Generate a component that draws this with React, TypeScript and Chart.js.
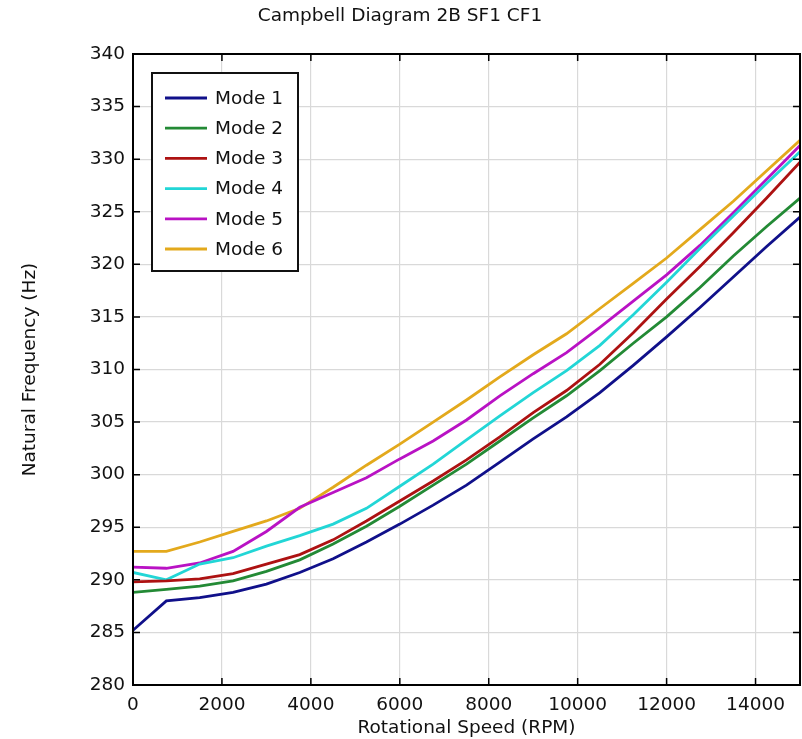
import React, { useEffect, useRef } from "react";
import { Chart, registerables } from "chart.js";

Chart.register(...registerables);

const rpm = [0, 750, 1500, 2250, 3000, 3750, 4500, 5250, 6000, 6750, 7500, 8250, 9000, 9750, 10500, 11250, 12000, 12750, 13500, 14250, 15000];

const mode1 = [285.2, 288.0, 288.3, 288.8, 289.6, 290.7, 292.0, 293.6, 295.3, 297.1, 299.0, 301.2, 303.4, 305.5, 307.8, 310.4, 313.1, 315.9, 318.8, 321.7, 324.5];
const mode2 = [288.8, 289.1, 289.4, 289.9, 290.8, 291.9, 293.4, 295.1, 297.0, 299.0, 301.0, 303.2, 305.4, 307.5, 309.9, 312.5, 315.0, 317.8, 320.8, 323.6, 326.3];
const mode3 = [289.8, 289.9, 290.1, 290.6, 291.5, 292.4, 293.8, 295.6, 297.5, 299.4, 301.4, 303.6, 305.9, 308.0, 310.5, 313.5, 316.7, 319.8, 323.0, 326.3, 329.7];
const mode4 = [290.7, 290.0, 291.5, 292.1, 293.2, 294.2, 295.3, 296.8, 298.9, 301.0, 303.3, 305.6, 307.8, 309.9, 312.3, 315.2, 318.3, 321.5, 324.6, 327.7, 330.7];
const mode5 = [291.2, 291.1, 291.6, 292.7, 294.6, 296.9, 298.3, 299.7, 301.5, 303.2, 305.2, 307.5, 309.6, 311.6, 314.0, 316.5, 319.0, 321.8, 324.9, 328.1, 331.3];
const mode6 = [292.7, 292.7, 293.6, 294.6, 295.6, 296.8, 298.8, 300.9, 302.9, 305.0, 307.1, 309.3, 311.4, 313.4, 315.8, 318.2, 320.6, 323.3, 326.0, 328.9, 331.8];

const seriesLabels = ["Mode 1", "Mode 2", "Mode 3", "Mode 4", "Mode 5", "Mode 6"];
const seriesColors = ["#10108a", "#238a35", "#ad1212", "#22d6d6", "#b912c4", "#e3a91c"];
const seriesValues = [mode1, mode2, mode3, mode4, mode5, mode6];

const xTicks = [0, 2000, 4000, 6000, 8000, 10000, 12000, 14000];
const yTicks = [280, 285, 290, 295, 300, 305, 310, 315, 320, 325, 330, 335, 340];

const FONT = "'DejaVu Sans', sans-serif";

const framePlugin = {
  id: "frameLegend",
  afterDatasetsDraw(chart: any) {
    const { ctx, chartArea, scales } = chart;
    const { left, right, top, bottom } = chartArea;
    const x = scales.x;
    const y = scales.y;
    ctx.save();
    ctx.strokeStyle = "#000";
    ctx.lineWidth = 2;
    ctx.strokeRect(left, top, right - left, bottom - top);
    ctx.lineWidth = 1.5;
    const L = 7;
    ctx.beginPath();
    xTicks.forEach((v) => {
      const px = x.getPixelForValue(v);
      ctx.moveTo(px, bottom);
      ctx.lineTo(px, bottom - L);
      ctx.moveTo(px, top);
      ctx.lineTo(px, top + L);
    });
    yTicks.forEach((v) => {
      const py = y.getPixelForValue(v);
      ctx.moveTo(left, py);
      ctx.lineTo(left + L, py);
      ctx.moveTo(right, py);
      ctx.lineTo(right - L, py);
    });
    ctx.stroke();

    // legend box inside plot
    const bx = left + 19;
    const by = top + 19;
    const bw = 146;
    const bh = 198;
    ctx.fillStyle = "#fff";
    ctx.fillRect(bx, by, bw, bh);
    ctx.lineWidth = 2;
    ctx.strokeStyle = "#111";
    ctx.strokeRect(bx, by, bw, bh);
    ctx.font = "18.5px " + FONT;
    ctx.textBaseline = "middle";
    ctx.textAlign = "left";
    chart.data.datasets.forEach((ds: any, i: number) => {
      const ry = by + 25 + i * 30.2;
      ctx.strokeStyle = ds.borderColor;
      ctx.lineWidth = 2.8;
      ctx.beginPath();
      ctx.moveTo(bx + 13, ry);
      ctx.lineTo(bx + 55, ry);
      ctx.stroke();
      ctx.fillStyle = "#111";
      ctx.fillText(ds.label, bx + 63, ry + 1);
    });
    ctx.restore();
  },
};

export default function App() {
  const ref = useRef<HTMLCanvasElement | null>(null);
  useEffect(() => {
    if (!ref.current) return;
    const chart = new Chart(ref.current, {
      type: "line",
      data: {
        datasets: seriesValues.map((vals, i) => ({
          label: seriesLabels[i],
          data: rpm.map((r, j) => ({ x: r, y: vals[j] })),
          borderColor: seriesColors[i],
          backgroundColor: seriesColors[i],
          borderWidth: 2.8,
          pointRadius: 0,
          tension: 0,
          fill: false,
        })),
      },
      options: {
        animation: false,
        responsive: false,
        maintainAspectRatio: false,
        layout: { padding: { left: 0, right: 2, top: 0, bottom: 0 } },
        plugins: {
          legend: { display: false },
          tooltip: { enabled: false },
          title: {
            display: true,
            text: "Campbell Diagram 2B SF1 CF1",
            color: "#111",
            font: { family: FONT, size: 18.5, weight: "normal" },
            padding: { top: 5, bottom: 26.8 },
          },
        },
        scales: {
          x: {
            type: "linear",
            min: 0,
            max: 15000,
            afterBuildTicks: (s: any) => {
              s.ticks = xTicks.map((v) => ({ value: v }));
            },
            afterFit: (s: any) => {
              s.height = 54;
            },
            grid: { color: "#d9d9d9", lineWidth: 1.2, drawTicks: false },
            border: { display: false },
            ticks: {
              color: "#111",
              font: { family: FONT, size: 18.5 },
              padding: 9,
              maxRotation: 0,
              autoSkip: false,
              callback: (v: any) => String(v),
            },
            title: {
              display: true,
              text: "Rotational Speed (RPM)",
              color: "#111",
              font: { family: FONT, size: 18.5 },
              padding: { top: 0, bottom: 0 },
            },
          },
          y: {
            type: "linear",
            min: 280,
            max: 340,
            afterBuildTicks: (s: any) => {
              s.ticks = yTicks.map((v) => ({ value: v }));
            },
            afterFit: (s: any) => {
              s.width = 133;
            },
            grid: { color: "#d9d9d9", lineWidth: 1.2, drawTicks: false },
            border: { display: false },
            ticks: {
              color: "#111",
              font: { family: FONT, size: 18.5 },
              padding: 8,
              autoSkip: false,
              callback: (v: any) => String(v),
            },
            title: {
              display: true,
              text: "Natural Frequency (Hz)",
              color: "#111",
              font: { family: FONT, size: 18.5 },
              padding: { top: 19, bottom: 0 },
            },
          },
        },
      },
      plugins: [framePlugin],
    });
    return () => chart.destroy();
  }, []);
  return (
    <div style={{ position: "fixed", left: 0, top: 0, width: 802, height: 739, background: "#fff" }}>
      <canvas ref={ref} width={802} height={739} style={{ display: "block", width: 802, height: 739 }} />
    </div>
  );
}
